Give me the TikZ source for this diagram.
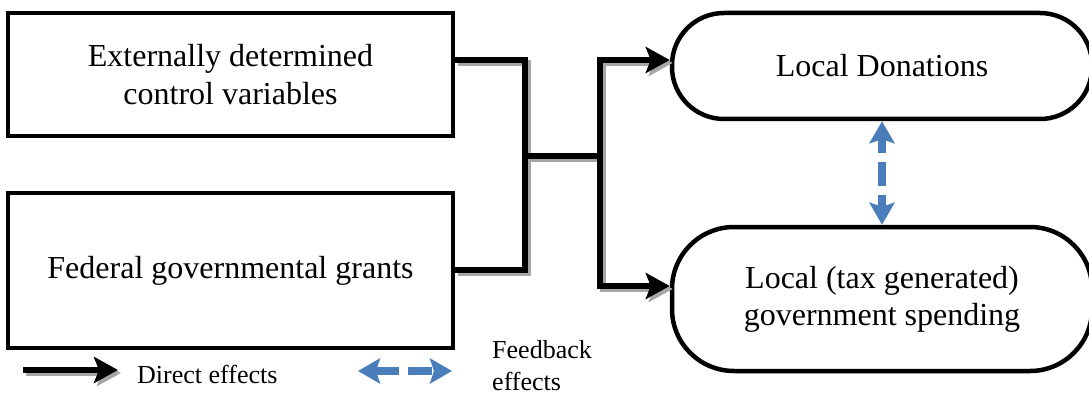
\documentclass[tikz,border=0pt]{standalone}
\usepackage{fontspec}
\setmainfont{Liberation Serif}
\usetikzlibrary{arrows.meta}
\definecolor{fbblue}{RGB}{74,126,187}
\tikzset{
  blkhead/.tip={Stealth[length=24pt, width=26pt, inset=5pt]},
  bluehead/.tip={Stealth[length=22pt, width=25pt, inset=4pt]}
}
\begin{document}
\begin{tikzpicture}[x=1pt,y=-1pt,
  sqbox/.style={draw=black, line width=4pt, rectangle, minimum width=445pt, align=center, inner sep=0pt, font=\fontsize{32}{38}\selectfont},
  rndbox/.style={draw=black, line width=4.5pt, rectangle, minimum width=420pt, align=center, inner sep=0pt, font=\fontsize{32}{37}\selectfont},
  conn/.style={line width=6.5pt, black},
  shad/.style={line width=6.5pt, black!35, transform canvas={shift={(3pt,-3pt)}}},
  fb/.style={line width=7.5pt, fbblue, dash pattern=on 24pt off 9pt},
  legtext/.style={font=\fontsize{26}{32}\selectfont, inner sep=0pt, align=left}
]
\useasboundingbox (0,0) rectangle (1089,393);

% boxes
\node[sqbox, minimum height=123pt] (e) at (230.5,74.5) {Externally determined\\control variables};
\node[sqbox, minimum height=155pt] (f) at (230.5,270.5) {Federal governmental grants};
\node[rndbox, minimum height=106pt, rounded corners=52pt] (don) at (882,66) {Local Donations};
\node[rndbox, minimum height=144pt, rounded corners=62pt] (gov) at (882,299) {Local (tax generated)\\government spending};

% junction coordinates
\coordinate (j1) at (525,60);
\coordinate (j2) at (525,270);
\coordinate (jm) at (525,156);
\coordinate (km) at (600,156);
\coordinate (k1) at (600,60);
\coordinate (k2) at (600,286);

% shadows
\draw[shad] (e.east |- j1) -- (j1) -- (j2) -- (f.east |- j2);
\draw[shad] (jm) -- (km);
\draw[shad, {blkhead}-{blkhead}] (don.west |- k1) -- (k1) -- (k2) -- (gov.west |- k2);

% connectors
\draw[conn] (e.east |- j1) -- (j1) -- (j2) -- (f.east |- j2);
\draw[conn] (jm) -- (km);
\draw[conn, {blkhead}-{blkhead}] (don.west |- k1) -- (k1) -- (k2) -- (gov.west |- k2);

% feedback arrow
\draw[fb, dash phase=9pt, {bluehead}-{bluehead}] (don.south) -- (gov.north);

% legend
\coordinate (da) at (23,370);
\coordinate (db) at (118,370);
\draw[shad, -{blkhead}] (da) -- (db);
\draw[conn, -{blkhead}] (da) -- (db);
\node[legtext, anchor=base west] (dtxt) at (137,383) {Direct effects};

\coordinate (fa) at (358,371);
\coordinate (fbb) at (452,371);
\draw[fb, {bluehead}-{bluehead}] (fa) -- (fbb);
\node[legtext, anchor=base west] (ftxt) at (492,390) {Feedback\\effects};
\end{tikzpicture}
\end{document}
